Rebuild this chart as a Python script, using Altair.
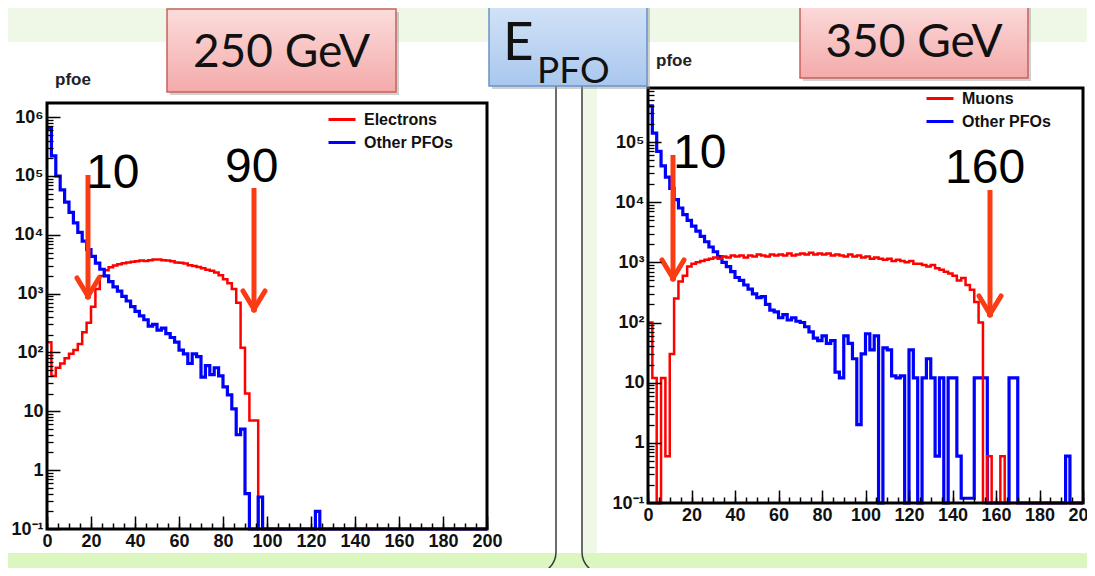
import altair as alt
import pandas as pd

# ---------------- data: 2 GeV bins from 0 to 200 ----------------
bin_starts = list(range(0, 200, 2))

electrons_250 = [150, 40, 55, 65, 80, 95, 110, 140, 220, 320,
                 600, 1200, 2000, 2500, 2800, 3000, 3150, 3300, 3400, 3500,
                 3550, 3650, 3600, 3700, 3800, 3800, 3700, 3650, 3550, 3400,
                 3350, 3250, 3050, 2950, 2850, 2700, 2550, 2450, 2300, 2050,
                 1750, 1500, 1200, 700, 120, 20, 7, 7, 0.1, 0.1,
                 0.1, 0.1, 0.1, 0.1, 0.1, 0.1, 0.1, 0.1, 0.1, 0.1,
                 0.1, 0.1, 0.1, 0.1, 0.1, 0.1, 0.1, 0.1, 0.1, 0.1,
                 0.1, 0.1, 0.1, 0.1, 0.1, 0.1, 0.1, 0.1, 0.1, 0.1,
                 0.1, 0.1, 0.1, 0.1, 0.1, 0.1, 0.1, 0.1, 0.1, 0.1,
                 0.1, 0.1, 0.1, 0.1, 0.1, 0.1, 0.1, 0.1, 0.1, 0.1]

others_250 = [650000, 220000, 100000, 58000, 36000, 24000, 16000, 11000, 7800, 5600,
              4300, 3300, 2600, 2000, 1600, 1300, 1100, 900, 750, 600,
              500, 420, 360, 280, 300, 240, 260, 210, 180, 150,
              110, 95, 65, 95, 85, 38, 60, 42, 55, 40,
              26, 19, 11, 4, 5, 0.4, 0.1, 0.1, 0.35, 0.1,
              0.1, 0.1, 0.1, 0.1, 0.1, 0.1, 0.1, 0.1, 0.1, 0.1,
              0.1, 0.2, 0.1, 0.1, 0.1, 0.1, 0.1, 0.1, 0.1, 0.1,
              0.1, 0.1, 0.1, 0.1, 0.1, 0.1, 0.1, 0.1, 0.1, 0.1,
              0.1, 0.1, 0.1, 0.1, 0.1, 0.1, 0.1, 0.1, 0.1, 0.1,
              0.1, 0.1, 0.1, 0.1, 0.1, 0.1, 0.1, 0.1, 0.1, 0.1]

muons_350 = [100, 12, 0.1, 12, 0.6, 30, 250, 480, 600, 850,
             950, 1000, 1050, 1100, 1150, 1200, 1150, 1250, 1200, 1300,
             1250, 1300, 1200, 1300, 1250, 1350, 1300, 1250, 1350, 1300,
             1350, 1300, 1400, 1300, 1350, 1400, 1350, 1450, 1350, 1400,
             1350, 1400, 1300, 1350, 1300, 1250, 1350, 1250, 1300, 1200,
             1250, 1150, 1200, 1150, 1100, 1150, 1050, 1100, 1050, 1000,
             1050, 950, 950, 900, 850, 900, 800, 750, 700, 650,
             600, 500, 550, 420, 350, 220, 100, 0.1, 0.6, 0.1,
             0.1, 0.6, 0.1, 0.1, 0.1, 0.1, 0.1, 0.1, 0.1, 0.1,
             0.1, 0.1, 0.1, 0.1, 0.1, 0.1, 0.1, 0.1, 0.1, 0.1]

others_350 = [400000, 140000, 70000, 40000, 26000, 17000, 11000, 8000, 6200, 5000,
              4000, 3300, 2700, 2200, 1800, 1500, 1250, 1000, 850, 700,
              560, 500, 420, 360, 300, 260, 270, 200, 160, 150,
              120, 135, 110, 120, 105, 100, 85, 70, 55, 50,
              60, 45, 50, 15, 12, 60, 45, 25, 2, 30,
              65, 35, 60, 0.1, 38, 35, 13, 12, 13, 0.1,
              35, 12, 0.1, 12, 25, 12, 0.6, 12, 0.1, 12,
              12, 0.6, 0.12, 0.12, 0.12, 12, 12, 12, 0.1, 0.1,
              0.1, 0.1, 0.1, 12, 12, 0.1, 0.1, 0.1, 0.1, 0.1,
              0.1, 0.1, 0.1, 0.1, 0.1, 0.1, 0.6, 0.1, 0.1, 0.1]

x_major = [0, 20, 40, 60, 80, 100, 120, 140, 160, 180, 200]
x_minor = list(range(0, 201, 5))
y_decades_250 = [0.1, 1, 10, 100, 1000, 10000, 100000, 1000000]
y_decades_350 = [0.1, 1, 10, 100, 1000, 10000, 100000]
y_minor_250 = [m * d for d in y_decades_250[:-1] for m in range(2, 10)] + [2e6]
y_minor_350 = [m * d for d in y_decades_350[:-1] for m in range(2, 10)] + [2e5, 3e5, 4e5, 5e5, 6e5, 7e5]

# ---------------- layout constants ----------------
W, H = 1079, 560
RED, BLUE = "#ff0000", "#0000ff"
ARROW = "#fa3c14"
ROOT_FONT = "Liberation Sans"
SLIDE_FONT = "Lato"
one = pd.DataFrame({"a": [0]})

SUP = ("datum.value == 0.1 ? '10⁻¹' : datum.value == 1 ? '1' : datum.value == 10 ? '10' : "
       "datum.value == 100 ? '10²' : datum.value == 1000 ? '10³' : datum.value == 10000 ? '10⁴' : "
       "datum.value == 100000 ? '10⁵' : '10⁶'")


def hist_df(values, name):
    return pd.DataFrame({"E": bin_starts + [200], "count": values + [values[-1]], "series": name})


def panel(red_vals, blue_vals, red_name, blue_name, x0, x1, yt, yb, ytop,
          decades, minors, lx, ly, red_on_top):
    xs = alt.Scale(domain=[0, 200], range=[x0, x1], nice=False, zero=False)
    ys = alt.Scale(type="log", domain=[0.1, ytop], range=[yb, yt], nice=False)
    color = alt.Color(
        "series:N",
        scale=alt.Scale(domain=[red_name, blue_name], range=[RED, BLUE]),
        legend=alt.Legend(orient="none", legendX=lx, legendY=ly, title=None,
                          symbolType="stroke", symbolSize=729, symbolStrokeWidth=3,
                          labelFont=ROOT_FONT, labelFontSize=16, labelFontWeight="bold",
                          labelColor="#111", labelOffset=7, rowPadding=0, padding=0,
                          zindex=1),
    )
    lab_x = alt.Axis(orient="bottom", offset=yb - H, values=x_major, ticks=False, tickSize=0,
                     domain=False, grid=False, labelFont=ROOT_FONT, labelFontSize=18,
                     labelFontWeight="bold", labelColor="#111", labelPadding=3,
                     labelFlush=False, labelOverlap=False, title=None, zindex=1)
    lab_y = alt.Axis(orient="left", offset=-x0, values=decades, ticks=False, tickSize=0,
                     domain=False, grid=False, labelFont=ROOT_FONT, labelFontSize=18,
                     labelFontWeight="bold", labelColor="#111", labelPadding=4,
                     labelExpr=SUP, labelFlush=False, labelOverlap=False, title=None, zindex=1)
    maj_x = alt.Axis(orient="top", offset=-yb, values=x_major, tickSize=13, tickWidth=1.5,
                     tickColor="#000", labels=False, domain=False, grid=False, title=None, zindex=1)
    maj_y = alt.Axis(orient="right", offset=x0 - W, values=decades, tickSize=13, tickWidth=1.5,
                     tickColor="#000", labels=False, domain=False, grid=False, title=None, zindex=1)
    min_x = alt.Axis(orient="top", offset=-yb, values=x_minor, tickSize=6, tickWidth=1.5,
                     tickColor="#000", labels=False, domain=False, grid=False, title=None, zindex=1)
    min_y = alt.Axis(orient="right", offset=x0 - W, values=minors, tickSize=6, tickWidth=1.3,
                     tickColor="#000", labels=False, domain=False, grid=False, title=None, zindex=1)

    red = alt.Chart(hist_df(red_vals, red_name)).mark_line(
        interpolate="step-after", strokeWidth=2.5).encode(
        x=alt.X("E:Q", scale=xs, axis=lab_x),
        y=alt.Y("count:Q", scale=ys, axis=lab_y),
        color=color)
    blue = alt.Chart(hist_df(blue_vals, blue_name)).mark_line(
        interpolate="step-after", strokeWidth=3.2).encode(
        x=alt.X("E:Q", scale=xs, axis=maj_x),
        y=alt.Y("count:Q", scale=ys, axis=maj_y),
        color=color)
    minor = alt.Chart(pd.DataFrame({"E": [100], "count": [1]})).mark_point(opacity=0).encode(
        x=alt.X("E:Q", scale=xs, axis=min_x),
        y=alt.Y("count:Q", scale=ys, axis=min_y))
    layers = [blue, red, minor] if red_on_top else [red, blue, minor]
    return alt.layer(*layers).resolve_axis(x="independent", y="independent")


def rect(x, x2, y, y2, **kw):
    return alt.Chart(one).mark_rect(**kw).encode(
        x=alt.value(x), x2=alt.value(x2), y=alt.value(y), y2=alt.value(y2))


def rule(x, x2, y, y2, **kw):
    return alt.Chart(one).mark_rule(**kw).encode(
        x=alt.value(x), x2=alt.value(x2), y=alt.value(y), y2=alt.value(y2))


def text(t, x, y, **kw):
    return alt.Chart(one).mark_text(text=t, **kw).encode(x=alt.value(x), y=alt.value(y))


def arrow(x, ytop, ytip):
    return [
        rule(x, x, ytop, ytip - 3, color=ARROW, strokeWidth=5),
        rule(x - 11, x + 0.5, ytip - 19, ytip, color=ARROW, strokeWidth=5, strokeCap="round"),
        rule(x + 11, x - 0.5, ytip - 19, ytip, color=ARROW, strokeWidth=5, strokeCap="round"),
    ]


def grad(c1, c2):
    return alt.LinearGradient(gradient="linear",
                              stops=[alt.GradientStop(color=c1, offset=0),
                                     alt.GradientStop(color=c2, offset=1)],
                              x1=0, x2=0, y1=0, y2=1)


background = [
    rect(0, W, 545, H + 20, color="#dcf6c0"),
    rect(0, 548, 34, 545, color="#ffffff"),
    rect(589, W, 34, 545, color="#ffffff"),
    rect(548, 574, 78, 545, color="#ffffff"),
    rect(-40, 548, -40, 566, filled=False, stroke="#3c3c3c", strokeWidth=1.5, cornerRadius=22),
    rect(574, W + 60, -40, 566, filled=False, stroke="#3c3c3c", strokeWidth=1.5, cornerRadius=22),
]

left = panel(electrons_250, others_250, "Electrons", "Other PFOs",
             39, 479, 95, 521, 1.74e6, y_decades_250, y_minor_250, 319, 96.5, False)
right = panel(muons_350, others_350, "Muons", "Other PFOs",
              640, 1075, 80, 495, 7.9e5, y_decades_350, y_minor_350, 917, 75.5, True)

frames = [
    rect(39, 479, 95, 521, filled=False, stroke="#000", strokeWidth=3),
    rect(640, 1075, 80, 495, filled=False, stroke="#000", strokeWidth=3),
    text("pfoe", 47, 72, font=ROOT_FONT, fontSize=17, fontWeight="bold", align="left", color="#222"),
    text("pfoe", 648, 53, font=ROOT_FONT, fontSize=17, fontWeight="bold", align="left", color="#222"),
]

boxes = [
    rect(162, 391, 4, 87, color="#999999", opacity=0.45),
    rect(159, 388, 1, 84, fill=grad("#fcdcdc", "#f4aaaa"), stroke="#c8605c", strokeWidth=1.5),
    text("250 GeV", 273.5, 59, font=SLIDE_FONT, fontSize=46, align="center", baseline="alphabetic", color="#111"),
    rect(795, 1023, -3, 73, color="#999999", opacity=0.45),
    rect(792, 1020, -6, 70, fill=grad("#fcdcdc", "#f4aaaa"), stroke="#c8605c", strokeWidth=1.5),
    text("350 GeV", 906, 49, font=SLIDE_FONT, fontSize=46, align="center", baseline="alphabetic", color="#111"),
    rect(484, 642, -7, 81, color="#999999", opacity=0.45),
    rect(481, 639, -10, 78, fill=grad("#d6e5f8", "#a9c7ee"), stroke="#6a93c8", strokeWidth=1.5),
    text("E", 495, 52, font=SLIDE_FONT, fontSize=53, align="left", baseline="alphabetic", color="#111"),
    text("PFO", 529, 75, font=SLIDE_FONT, fontSize=37, align="left", baseline="alphabetic", color="#111"),
]

arrows = (arrow(80, 167, 289) + arrow(246, 180, 302) + arrow(665, 147, 271) + arrow(982, 182, 307))

numbers = [
    text("10", 78, 180, font=ROOT_FONT, fontSize=48, align="left", baseline="alphabetic", color="#000"),
    text("90", 217, 174, font=ROOT_FONT, fontSize=48, align="left", baseline="alphabetic", color="#000"),
    text("10", 665, 160, font=ROOT_FONT, fontSize=48, align="left", baseline="alphabetic", color="#000"),
    text("160", 937, 175, font=ROOT_FONT, fontSize=48, align="left", baseline="alphabetic", color="#000"),
]

chart = alt.layer(
    *background, left, right, *frames, *boxes, *arrows, *numbers
).resolve_scale(
    x="independent", y="independent", color="independent"
).properties(
    width=W, height=H, autosize=alt.AutoSizeParams(type="none"), padding=0,
    background="#eff8e6"
).configure_view(strokeWidth=0)

chart.save("out.html", embed_options={"renderer": "svg", "actions": False})
